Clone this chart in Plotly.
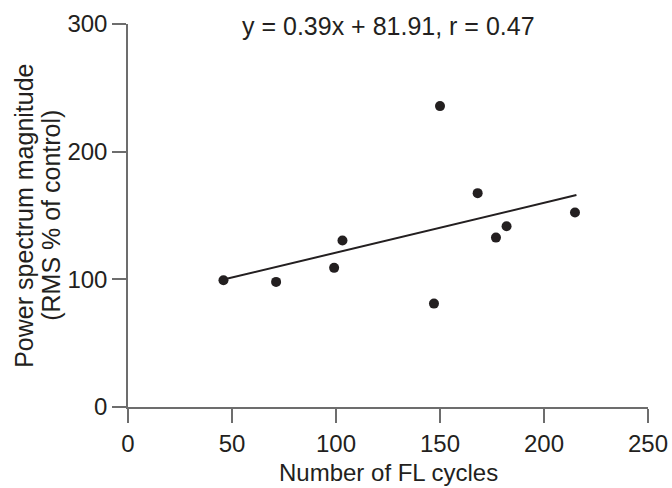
import plotly.graph_objects as go

fl_cycles = [45.9, 71.2, 99.1, 103.1, 147.1, 150.0, 168.1, 176.9, 182.0, 214.9]
power_rms = [99.3, 98.0, 109.0, 130.4, 81.0, 235.7, 167.5, 132.7, 141.6, 152.3]
slope, intercept, r_value = 0.39, 81.91, 0.47
x_ticks = [0, 50, 100, 150, 200, 250]
y_ticks = [0, 100, 200, 300]

fit_x = [min(fl_cycles), max(fl_cycles) + 0.7]
fit_y = [slope * v + intercept for v in fit_x]

ink = "#231f20"
axis_col = "#6d6d6d"
font = "Liberation Sans, Arial, sans-serif"
fs = 24

fig = go.Figure()
fig.add_trace(go.Scatter(x=fit_x, y=fit_y, mode="lines",
                         line=dict(color=ink, width=2), showlegend=False,
                         hoverinfo="skip"))
fig.add_trace(go.Scatter(x=fl_cycles, y=power_rms, mode="markers",
                         marker=dict(color=ink, size=10), showlegend=False))

fig.update_layout(
    width=672, height=488,
    margin=dict(l=127.7, r=23.7, t=24.3, b=81, autoexpand=False),
    paper_bgcolor="white", plot_bgcolor="white",
    font=dict(family=font, size=fs, color=ink),
    xaxis=dict(range=[0, 250], tickvals=x_ticks, showgrid=False, zeroline=False,
               showline=True, linecolor=axis_col, linewidth=1.5, automargin=False,
               ticks="outside", ticklen=14, tickwidth=1.5, tickcolor=axis_col,
               tickfont=dict(size=fs, color=ink), fixedrange=True),
    yaxis=dict(range=[0, 300], tickvals=y_ticks, showgrid=False, zeroline=False,
               showline=True, linecolor=axis_col, linewidth=1.5, automargin=False,
               ticks="outside", ticklen=14, tickwidth=1.5, tickcolor=axis_col,
               tickfont=dict(size=fs, color=ink), fixedrange=True),
    annotations=[
        dict(text=f"y = {slope}x + {intercept}, r = {r_value}", xref="paper", yref="paper",
             x=0.5, y=1, yanchor="middle", xanchor="center", showarrow=False,
             font=dict(size=fs + 1, color=ink), yshift=-2),
        dict(text="Number of FL cycles", xref="paper", yref="paper",
             x=0.5, y=0, yanchor="middle", xanchor="center", showarrow=False,
             font=dict(size=fs, color=ink), yshift=-65),
        dict(text="Power spectrum magnitude", xref="paper", yref="paper",
             x=0, y=0.5, xanchor="center", yanchor="middle", showarrow=False,
             textangle=-90, font=dict(size=fs + 1, color=ink), xshift=-104.7),
        dict(text="(RMS % of control)", xref="paper", yref="paper",
             x=0, y=0.5, xanchor="center", yanchor="middle", showarrow=False,
             textangle=-90, font=dict(size=fs + 1, color=ink), xshift=-77.7),
    ],
)

fig.write_html("out.html")
